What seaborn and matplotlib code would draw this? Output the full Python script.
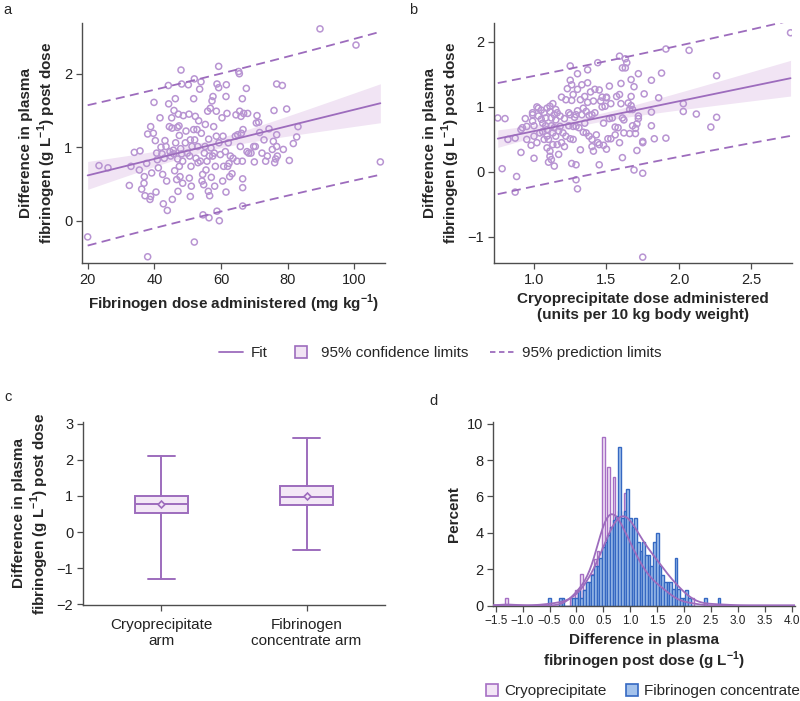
import numpy as np
import pandas as pd
import seaborn as sns
import matplotlib
matplotlib.use("Agg")
import matplotlib.pyplot as plt
from matplotlib.lines import Line2D

# ---------------- data ----------------
fib_dose = [20, 23.4, 26.1, 32.5, 33, 34, 35.7, 35.5, 36.2, 36.9, 37, 37.2, 37.7, 38, 38, 38.7, 38.9, 38.9,
            39.2, 39.7, 39.9, 40.3, 40.5, 40.7, 40.9, 41.2, 41.7, 42, 42.3, 42.5, 42.7, 43, 43.2, 43.5, 43.7,
            43.9, 44.2, 44.3, 44.5, 44.7, 44.9, 45.2, 45.3, 45.4, 45.7, 45.8, 45.9, 46.1, 46.3, 46.4, 46.7,
            46.9, 47, 47.1, 47.2, 47.4, 47.5, 47.5, 47.7, 47.9, 48, 48.2, 48.2, 48.5, 48.5, 48.7, 49.3, 49.5,
            49.9, 50.2, 50.4, 50.5, 50.6, 50.8, 50.8, 51, 51.1, 51.3, 51.8, 51.8, 52, 52, 52.1, 52.3, 52.5,
            52.8, 53, 53.1, 53.3, 53.6, 53.8, 54, 54.1, 54.3, 54.5, 54.6, 54.8, 55, 55.2, 55.3, 55.5, 55.8,
            56, 56.2, 56.3, 56.4, 56.5, 56.6, 56.8, 57, 57.1, 57.3, 57.5, 57.6, 57.8, 58, 58.1, 58.3, 58.6,
            58.6, 58.8, 58.8, 59.3, 59.3, 59.4, 59.5, 59.8, 60.3, 60.5, 60.6, 60.8, 61.3, 61.5, 61.5, 61.6,
            61.8, 62, 62.2, 62.4, 62.6, 62.8, 63.3, 63.6, 64.3, 64.5, 64.8, 65, 65.3, 65.5, 65.6, 65.8, 66,
            66.1, 66.4, 66.4, 66.5, 66.5, 66.5, 66.6, 66.8, 67.6, 67.8, 68, 68.3, 69, 69.8, 70, 70.3, 70.6,
            70.8, 71.3, 71.6, 72.3, 72.9, 73.4, 73.9, 74.4, 75.4, 75.7, 75.9, 76.1, 76.4, 76.7, 76.7, 76.9,
            76.7, 78.4, 78.7, 79.7, 80.5, 81.7, 82.7, 83.1, 89.7, 100.5, 107.8]
fib_diff = [-0.22, 0.75, 0.72, 0.48, 0.74, 0.93, 0.95, 0.69, 0.43, 0.51, 0.60, 0.34, 0.78, 1.18, -0.49, 0.29,
            0.33, 1.28, 0.65, 1.19, 1.61, 1.09, 0.39, 0.92, 0.83, 0.72, 1.40, 1.00, 0.91, 0.63, 0.23, 0.85,
            1.09, 1.01, 0.54, 0.14, 1.84, 1.59, 1.28, 0.94, 0.88, 1.40, 1.26, 0.29, 0.96, 0.91, 1.50, 0.68,
            1.66, 1.06, 0.56, 1.27, 0.84, 0.40, 1.45, 1.29, 1.16, 0.74, 0.60, 0.98, 2.05, 1.86, 0.91, 0.81,
            0.51, 1.43, 1.06, 1.22, 0.92, 1.85, 1.45, 0.58, 0.88, 1.10, 0.33, 0.74, 0.47, 1.01, 1.66, 1.24,
            1.93, -0.29, 1.10, 1.42, 0.85, 1.24, 1.01, 0.79, 1.36, 1.79, 0.81, 1.89, 1.19, 0.54, 0.63, 0.08,
            0.49, 0.92, 1.01, 1.31, 0.69, 0.81, 1.49, 0.40, 1.11, 0.04, 0.88, 0.34, 1.53, 0.99, 0.59, 1.63,
            0.88, 1.69, 1.28, 0.92, 0.47, 0.74, 1.15, 1.49, 1.86, 0.13, 2.10, 1.81, 1.06, 0.00, 0.90, 1.40,
            0.54, 1.15, 0.74, 0.94, 1.69, 0.39, 1.85, 1.46, 0.74, 1.06, 0.78, 0.60, 0.88, 0.64, 0.85, 1.15,
            1.44, 0.81, 1.17, 2.03, 2.00, 1.49, 1.01, 1.42, 1.19, 1.66, 0.81, 0.57, 0.45, 0.20, 1.24, 1.46,
            1.80, 0.94, 1.46, 0.92, 0.92, 1.01, 0.80, 1.01, 1.33, 1.43, 1.34, 1.20, 0.92, 1.10, 0.81, 0.88,
            1.25, 0.97, 1.08, 1.50, 0.79, 0.84, 1.01, 1.17, 0.88, 1.86, 1.84, 0.97, 1.52, 0.82, 1.05, 1.14,
            1.28, 2.61, 2.39, 0.80]

cryo_dose = [0.75, 0.80, 0.78, 0.82, 0.87, 0.87, 0.88, 0.91, 0.91, 0.92, 0.94, 0.95, 0.95, 0.98, 0.99, 0.99,
             0.99, 1.00, 1.00, 1.00, 1.02, 1.02, 1.03, 1.03, 1.04, 1.05, 1.05, 1.06, 1.06, 1.07, 1.07, 1.08,
             1.08, 1.09, 1.09, 1.09, 1.09, 1.10, 1.10, 1.11, 1.11, 1.11, 1.11, 1.12, 1.12, 1.12, 1.13, 1.13,
             1.13, 1.14, 1.14, 1.14, 1.15, 1.15, 1.15, 1.16, 1.16, 1.17, 1.17, 1.18, 1.18, 1.19, 1.19, 1.20,
             1.21, 1.21, 1.22, 1.22, 1.23, 1.24, 1.24, 1.25, 1.25, 1.25, 1.25, 1.26, 1.26, 1.26, 1.27, 1.27,
             1.27, 1.28, 1.29, 1.29, 1.29, 1.29, 1.30, 1.30, 1.30, 1.30, 1.31, 1.32, 1.32, 1.33, 1.33, 1.34,
             1.34, 1.35, 1.35, 1.36, 1.36, 1.37, 1.37, 1.37, 1.38, 1.38, 1.39, 1.40, 1.40, 1.40, 1.41, 1.41,
             1.42, 1.42, 1.43, 1.44, 1.44, 1.45, 1.45, 1.45, 1.46, 1.47, 1.47, 1.48, 1.48, 1.49, 1.50, 1.50,
             1.50, 1.51, 1.52, 1.52, 1.53, 1.53, 1.54, 1.56, 1.56, 1.57, 1.58, 1.59, 1.59, 1.59, 1.60, 1.60,
             1.61, 1.61, 1.61, 1.62, 1.62, 1.63, 1.63, 1.64, 1.65, 1.66, 1.66, 1.67, 1.67, 1.67, 1.68, 1.68,
             1.69, 1.69, 1.70, 1.70, 1.71, 1.71, 1.72, 1.72, 1.72, 1.75, 1.75, 1.75, 1.76, 1.75, 1.81, 1.81,
             1.81, 1.83, 1.86, 1.88, 1.91, 1.91, 2.07, 2.03, 2.03, 2.12, 2.22, 2.26, 2.26, 2.77]
cryo_diff = [0.83, 0.82, 0.05, 0.50, -0.31, 0.52, -0.07, 0.30, 0.65, 0.68, 0.82, 0.70, 0.50, 0.41, 0.88, 0.91,
             0.78, 0.71, 0.21, 0.55, 1.00, 0.45, 0.86, 0.98, 0.60, 0.81, 0.95, 0.75, 0.62, 0.91, 0.50, 0.71,
             0.83, 0.55, 0.98, 0.65, 0.37, 0.15, 0.50, 0.93, 0.24, 0.32, 1.01, 0.71, 0.19, 0.83, 0.60, 1.05,
             0.42, 0.88, 0.68, 0.09, 0.96, 0.55, 0.80, 0.42, 0.91, 0.63, 0.27, 0.86, 0.70, 0.45, 1.15, 0.60,
             0.82, 0.39, 0.55, 1.11, 1.28, 0.91, 0.71, 1.63, 0.51, 1.41, 0.88, 1.10, 1.34, 0.13, 0.70, 1.19,
             0.50, 0.84, 0.70, 0.88, 0.11, -0.12, -0.26, 1.51, 1.27, 0.94, 0.68, 0.34, 1.11, 0.88, 1.34, 0.61,
             0.98, 0.75, 1.16, 0.93, 0.60, 1.57, 1.37, 1.07, 0.55, 0.87, 1.23, 0.50, 0.39, 0.88, 0.32, 1.09,
             1.27, 0.91, 0.57, 0.45, 1.68, 1.26, 0.11, 0.42, 1.09, 1.00, 1.15, 0.41, 0.75, 1.01, 1.14, 0.35,
             1.15, 0.51, 1.32, 0.82, 1.05, 0.51, 0.83, 0.57, 0.69, 1.16, 0.68, 1.78, 1.19, 0.45, 1.05, 1.36,
             0.83, 1.60, 0.22, 0.80, 0.60, 1.74, 1.60, 1.68, 1.06, 0.96, 0.59, 1.42, 1.16, 1.02, 0.71, 0.96,
             1.31, 0.03, 0.67, 0.59, 0.74, 0.33, 1.51, 0.86, 0.82, 0.45, -0.02, -1.31, 1.20, 0.47, 0.71, 1.41,
             0.92, 0.51, 1.14, 1.52, 0.52, 1.89, 1.87, 1.05, 0.93, 0.89, 0.69, 1.48, 0.84, 2.14]

box_arms = ["Cryoprecipitate\narm", "Fibrinogen\nconcentrate arm"]
box_min = [-1.31, -0.49]
box_q1 = [0.53, 0.74]
box_med = [0.79, 0.97]
box_q3 = [1.01, 1.29]
box_max = [2.12, 2.62]
box_mean = [0.78, 1.01]

hist_cryo_x = [-1.30, -0.10, -0.05, 0.00, 0.05, 0.10, 0.15, 0.20, 0.25, 0.30, 0.35, 0.40, 0.45, 0.50, 0.55,
               0.60, 0.65, 0.70, 0.75, 0.80, 0.85, 0.90, 0.95, 1.00, 1.05, 1.10, 1.15, 1.20, 1.25, 1.30, 1.35,
               1.40, 1.45, 1.50, 1.55, 1.60, 1.65, 1.70, 1.75, 1.80, 1.90, 2.05, 2.15]
hist_cryo_pct = [0.43, 0.43, 0.43, 0.86, 0.86, 1.72, 0.86, 1.29, 0.86, 1.72, 2.58, 3.0, 2.2, 9.3, 3.4, 7.6,
                 4.3, 7.1, 4.0, 5.2, 3.0, 6.2, 3.4, 3.0, 2.6, 3.4, 2.2, 2.6, 1.7, 1.7, 1.3, 1.7, 0.9, 1.3,
                 0.9, 1.3, 0.9, 0.43, 0.86, 0.43, 0.43, 0.43, 0.43]
hist_fib_x = [-0.50, -0.30, -0.25, -0.05, 0.00, 0.05, 0.10, 0.15, 0.20, 0.25, 0.30, 0.35, 0.40, 0.45, 0.50,
              0.55, 0.60, 0.65, 0.70, 0.75, 0.80, 0.85, 0.90, 0.95, 1.00, 1.05, 1.10, 1.15, 1.20, 1.25, 1.30,
              1.35, 1.40, 1.45, 1.50, 1.55, 1.60, 1.65, 1.70, 1.75, 1.80, 1.85, 1.90, 1.95, 2.00, 2.05, 2.10,
              2.40, 2.65]
hist_fib_pct = [0.43, 0.43, 0.43, 0.43, 0.43, 0.86, 0.43, 0.86, 1.3, 1.3, 1.7, 2.2, 2.2, 2.6, 3.2, 3.5, 3.9,
                4.3, 4.7, 4.9, 8.7, 4.8, 5.2, 6.4, 4.8, 4.3, 4.8, 3.5, 3.0, 3.5, 2.8, 2.8, 2.2, 3.5, 4.0,
                2.2, 1.7, 1.3, 1.3, 1.3, 0.9, 2.6, 0.9, 0.43, 0.43, 0.86, 0.43, 0.43, 0.43]

# ---------------- style ----------------
sns.set_theme(style="ticks")
plt.rcParams["font.family"] = ["Liberation Sans", "DejaVu Sans"]
plt.rcParams["mathtext.fontset"] = "custom"
plt.rcParams["mathtext.rm"] = "Liberation Sans"
plt.rcParams["mathtext.bf"] = "Liberation Sans:bold"
plt.rcParams["axes.edgecolor"] = "#4d4d4d"
plt.rcParams["xtick.color"] = "#4d4d4d"
plt.rcParams["ytick.color"] = "#4d4d4d"
plt.rcParams["xtick.labelcolor"] = "#222222"
plt.rcParams["ytick.labelcolor"] = "#222222"

LINE = "#9d6cbd"
PT = "#b894d2"
CI = "#f1e4f4"
BOXF = "#f3e8f6"
PINKF = "#f3e6f6"
PINKE = "#a66fc4"
BLUEF = "#a3c2ec"
BLUEE = "#3568c2"

TICK = 10.5
LAB = 11
ylab = "Difference in plasma\nfibrinogen (g L$^{\\mathbf{-1}}$) post dose"

fig = plt.figure(figsize=(8.0, 7.01), dpi=100)
W, H = 800, 701


def add_ax(l, t, r, b):
    return fig.add_axes([l / W, 1 - b / H, (r - l) / W, (b - t) / H])


def style(ax):
    sns.despine(ax=ax)
    ax.tick_params(length=4, width=0.9, labelsize=TICK, pad=3)
    for s in ax.spines.values():
        s.set_linewidth(1.0)


def fit_panel(ax, x, y):
    x = np.asarray(x, float)
    y = np.asarray(y, float)
    n = len(x)
    b1, b0 = np.polyfit(x, y, 1)
    res = y - (b0 + b1 * x)
    s = np.sqrt((res ** 2).sum() / (n - 2))
    xb = x.mean()
    sxx = ((x - xb) ** 2).sum()
    xs = np.linspace(x.min(), x.max(), 200)
    yh = b0 + b1 * xs
    t = 1.97
    se = s * np.sqrt(1 / n + (xs - xb) ** 2 / sxx)
    sp = s * np.sqrt(1 + 1 / n + (xs - xb) ** 2 / sxx)
    ax.fill_between(xs, yh - t * se, yh + t * se, color=CI, lw=0, zorder=1)
    sns.scatterplot(x=x, y=y, ax=ax, s=19, facecolor="none", edgecolor=PT, linewidth=1.1, zorder=2)
    ax.plot(xs, yh, color=LINE, lw=1.3, zorder=3)
    ax.plot(xs, yh + t * sp, color=LINE, lw=1.3, ls=(0, (5, 3)), zorder=3)
    ax.plot(xs, yh - t * sp, color=LINE, lw=1.3, ls=(0, (5, 3)), zorder=3)


# ---- panel a ----
axa = add_ax(82, 23, 385, 263)
fit_panel(axa, fib_dose, fib_diff)
axa.set_xlim(18.3, 109.2)
axa.set_ylim(-0.575, 2.69)
axa.set_xticks([20, 40, 60, 80, 100])
axa.set_yticks([0, 1, 2])
axa.set_xlabel("Fibrinogen dose administered (mg kg$^{\\mathbf{-1}}$)", fontsize=LAB, fontweight="bold")
axa.set_ylabel(ylab, fontsize=LAB, fontweight="bold")
style(axa)

# ---- panel b ----
axb = add_ax(494, 23, 792, 263)
fit_panel(axb, cryo_dose, cryo_diff)
axb.set_xlim(0.724, 2.78)
axb.set_ylim(-1.4, 2.29)
axb.set_xticks([1.0, 1.5, 2.0, 2.5])
axb.set_yticks([-1, 0, 1, 2])
axb.set_xlabel("Cryoprecipitate dose administered\n(units per 10 kg body weight)", fontsize=LAB, fontweight="bold")
axb.set_ylabel(ylab, fontsize=LAB, fontweight="bold")
style(axb)

# shared legend
h = [Line2D([], [], color=LINE, lw=1.3),
     Line2D([], [], ls="none", marker="s", ms=9, mfc=CI, mec=LINE, mew=1.2),
     Line2D([], [], color=LINE, lw=1.3, ls=(0, (3, 2)))]
fig.legend(h, ["Fit", "95% confidence limits", "95% prediction limits"], loc="center",
           bbox_to_anchor=(440 / W, 1 - 353 / H), ncol=3, frameon=False, fontsize=LAB,
           handlelength=1.6, handletextpad=0.5, columnspacing=1.4)

# ---- panel c ----
axc = add_ax(83, 422, 385, 605)
stats = [dict(med=m, q1=a, q3=b, whislo=lo, whishi=hi, mean=mu, fliers=[], label=lab)
         for lab, lo, a, m, b, hi, mu in zip(box_arms, box_min, box_q1, box_med, box_q3, box_max, box_mean)]
axc.bxp(stats, positions=[0, 1], widths=0.36, capwidths=0.19, showmeans=True, showfliers=False,
        patch_artist=True,
        boxprops=dict(facecolor=BOXF, edgecolor=LINE, linewidth=1.4),
        medianprops=dict(color=LINE, lw=1.4),
        whiskerprops=dict(color=LINE, lw=1.4),
        capprops=dict(color=LINE, lw=1.4),
        meanprops=dict(marker="D", markersize=3.5, markerfacecolor=BOXF, markeredgecolor=LINE,
                       markeredgewidth=1.2))
axc.set_xlim(-0.54, 1.54)
axc.set_ylim(-2.02, 3.05)
axc.set_yticks([-2, -1, 0, 1, 2, 3])
axc.set_xticks([0, 1])
axc.set_xticklabels(box_arms)
axc.set_ylabel(ylab, fontsize=LAB, fontweight="bold")
style(axc)
axc.tick_params(axis="x", labelsize=LAB, pad=5)

# ---- panel d ----
axd = add_ax(493, 422, 795, 605.5)
edges = [round(-1.525 + 0.05 * i, 4) for i in range(113)]
sns.histplot(x=hist_cryo_x, weights=hist_cryo_pct, bins=edges, ax=axd, kde=True,
             kde_kws=dict(cut=10, bw_adjust=0.7), color=PINKF, edgecolor=PINKE, linewidth=1.0, alpha=1)
axd.lines[-1].set_color(LINE)
axd.lines[-1].set_linewidth(1.3)
axd.lines[-1].set_zorder(4)
sns.histplot(x=hist_fib_x, weights=hist_fib_pct, bins=edges, ax=axd, kde=True,
             kde_kws=dict(cut=10, bw_adjust=0.85), color=BLUEF, edgecolor=BLUEE, linewidth=1.0, alpha=1)
axd.lines[-1].set_color(LINE)
axd.lines[-1].set_linewidth(1.3)
axd.lines[-1].set_zorder(4)
axd.set_xlim(-1.55, 4.06)
axd.set_ylim(0, 10.1)
xt = [-1.5 + 0.5 * i for i in range(12)]
axd.set_xticks(xt)
axd.set_xticklabels([f"{v:.1f}".replace("-", "\u2212") for v in xt])
axd.set_yticks([0, 2, 4, 6, 8, 10])
axd.set_ylabel("Percent", fontsize=LAB, fontweight="bold")
axd.set_xlabel("Difference in plasma\nfibrinogen post dose (g L$^{\\mathbf{-1}}$)", fontsize=LAB, fontweight="bold")
style(axd)
axd.tick_params(axis="x", labelsize=8.5)

hd = [Line2D([], [], ls="none", marker="s", ms=9, mfc=PINKF, mec=PINKE, mew=1.2),
      Line2D([], [], ls="none", marker="s", ms=9, mfc=BLUEF, mec=BLUEE, mew=1.2)]
fig.legend(hd, ["Cryoprecipitate", "Fibrinogen concentrate"], loc="center",
           bbox_to_anchor=(643 / W, 1 - 691 / H), ncol=2, frameon=False, fontsize=LAB,
           handlelength=0.8, handletextpad=0.4, columnspacing=1.2)

# panel letters
for lab, x, y in [("a", 7, 10), ("b", 413, 10), ("c", 8, 397), ("d", 433, 401)]:
    fig.text(x / W, 1 - y / H, lab, fontsize=10.5, ha="center", va="center")

fig.savefig("out.png", dpi=100)
